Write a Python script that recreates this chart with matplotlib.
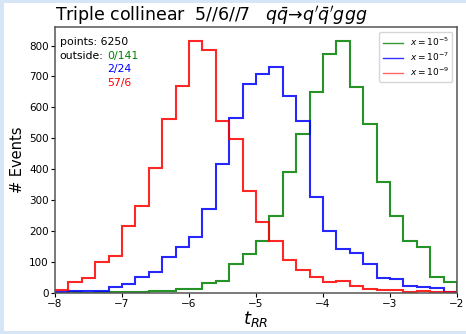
import numpy as np
import matplotlib
matplotlib.use('Agg')
import matplotlib.pyplot as plt
from matplotlib.lines import Line2D
from matplotlib.patches import Rectangle

# bin edges of t_RR and counts per bin
edges = np.round(np.arange(-8.0, -1.99, 0.2), 1)

counts_5 = [0, 1, 0, 1, 1, 1, 1, 5, 6, 12, 13, 32, 38, 94, 125,
            167, 248, 390, 515, 648, 773, 816, 667, 546, 357, 249, 168, 149, 50, 36]
counts_7 = [2, 7, 6, 6, 20, 29, 52, 68, 116, 149, 179, 270, 418, 566, 675,
            709, 732, 637, 557, 309, 200, 140, 130, 93, 49, 44, 23, 20, 16, 3]
counts_9 = [10, 35, 49, 99, 118, 216, 282, 402, 562, 669, 815, 784, 557, 499, 329,
            230, 167, 105, 72, 52, 36, 38, 22, 13, 8, 9, 1, 4, 2, 1]

labels = [r'$x = 10^{-5}$', r'$x = 10^{-7}$', r'$x = 10^{-9}$']
colors = ['green', 'blue', 'red']
outside = ['0/141', '2/24', '57/6']
n_points = 6250

fig = plt.figure(figsize=(4.66, 3.34), dpi=100)
fig.patch.set_facecolor('#d6e6f6')
fig.patches.append(Rectangle((4 / 466, 3 / 334), 1, 1 - 6 / 334, transform=fig.transFigure,
                             facecolor='white', edgecolor='none', zorder=-10))
ax = fig.add_axes([55 / 466, 1 - 292.7 / 334, 402 / 466, 265.4 / 334])
ax.set_zorder(5)

for c, col in zip([counts_5, counts_7, counts_9], colors):
    ax.stairs(c, edges, color=col, lw=1.5, alpha=0.85)

handles = [Line2D([], [], color=col, lw=1, alpha=0.8 if col != 'red' else 0.6) for col in colors]
leg = ax.legend(handles, labels, loc='upper right', fontsize=6.5, handlelength=2.2,
                borderpad=0.4, labelspacing=0.3, handletextpad=0.8, borderaxespad=0.5,
                fancybox=True, framealpha=0.8)

ax.text(0.012, 0.965, 'points: %d' % n_points, transform=ax.transAxes, fontsize=7.8,
        va='top', ha='left')
ax.text(0.012, 0.892, 'outside:', transform=ax.transAxes, fontsize=7.8, va='center', ha='left')
for i, (o, col) in enumerate(zip(outside, colors)):
    ax.text(0.13, 0.892 - i * 0.051, o, color=col, transform=ax.transAxes, fontsize=7.8,
            va='center', ha='left')

ax.set_xlim(-8, -2)
ax.set_ylim(0, 859)
ax.set_xticks(range(-8, -1))
ax.set_yticks(range(0, 801, 100))
ax.tick_params(labelsize=7.5, length=3, width=0.8, pad=1.5)
for sp in ax.spines.values():
    sp.set_color('#555555')
    sp.set_linewidth(1.1)

ax.set_xlabel(r'$t_{RR}$', fontsize=13, labelpad=0)
ax.set_ylabel('# Events', fontsize=10.5, labelpad=3)
ax.set_title(r"Triple collinear  5//6//7   $q\bar{q}$→$q'\bar{q}'ggg$", fontsize=12.5,
             loc='left', pad=5)

fig.savefig('out.png', dpi=100, facecolor=fig.get_facecolor())
